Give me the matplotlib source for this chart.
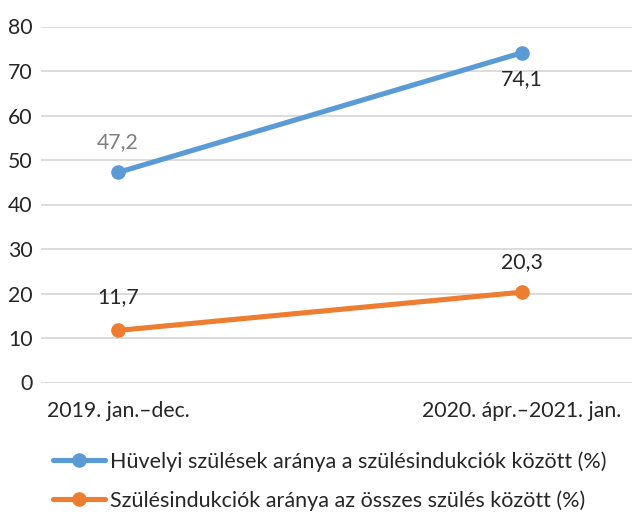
import matplotlib
matplotlib.use("Agg")
import matplotlib.pyplot as plt

# data
categories = ["2019. jan.–dec.", "2020. ápr.–2021. jan."]
huvelyi = [47.2, 74.1]
indukcio = [11.7, 20.3]
series_names = [
    "Hüvelyi szülések aránya a szülésindukciók között (%)",
    "Szülésindukciók aránya az összes szülés között (%)",
]
y_ticks = [0, 10, 20, 30, 40, 50, 60, 70, 80]

blue = "#5B9BD5"
orange = "#ED7D31"
text_dark = "#262626"

plt.rcParams["font.family"] = ["Lato", "DejaVu Sans"]

fig = plt.figure(figsize=(6.32, 5.12), dpi=100)
ax = fig.add_axes([41 / 632, 129.5 / 512, 591 / 632, 356 / 512])

x = list(range(len(categories)))
l1, = ax.plot(x, huvelyi, color=blue, lw=3.7, marker="o", ms=9.5,
              solid_capstyle="round", zorder=3)
l2, = ax.plot(x, indukcio, color=orange, lw=3.7, marker="o", ms=9.5,
              solid_capstyle="round", zorder=3)


def fmt(v):
    return f"{v:.1f}".replace(".", ",")


# data labels (offsets in points)
labels = [
    (x[0], huvelyi[0], 22, "#7F7F7F"),
    (x[1], huvelyi[1], -19, text_dark),
    (x[0], indukcio[0], 24, text_dark),
    (x[1], indukcio[1], 22, text_dark),
]
for xi, yi, dy, c in labels:
    ax.annotate(fmt(yi), (xi, yi), xytext=(0, dy),
                textcoords="offset points", ha="center", va="center",
                fontsize=15.3, color=c)

ax.set_xlim(-77 / 404, 1 + 110 / 404)
ax.set_ylim(0, 80)
ax.set_yticks(y_ticks)
ax.set_xticks(x)
ax.set_xticklabels(categories)
ax.tick_params(axis="both", length=0, labelsize=15.3, colors=text_dark)
ax.tick_params(axis="y", pad=6)
ax.tick_params(axis="x", pad=13)
ax.grid(axis="y", color="#D9D9D9", lw=1.3)
ax.set_axisbelow(True)
for side in ("left", "right", "top", "bottom"):
    ax.spines[side].set_visible(False)

fig.legend([l1, l2], series_names, loc="upper left",
           bbox_to_anchor=(34 / 632, 1 - 432 / 512), frameon=False,
           fontsize=15.5, handlelength=2.4, handletextpad=0.25,
           labelspacing=0.85, labelcolor=text_dark, borderpad=0.4)

fig.savefig("out.png", dpi=100)
